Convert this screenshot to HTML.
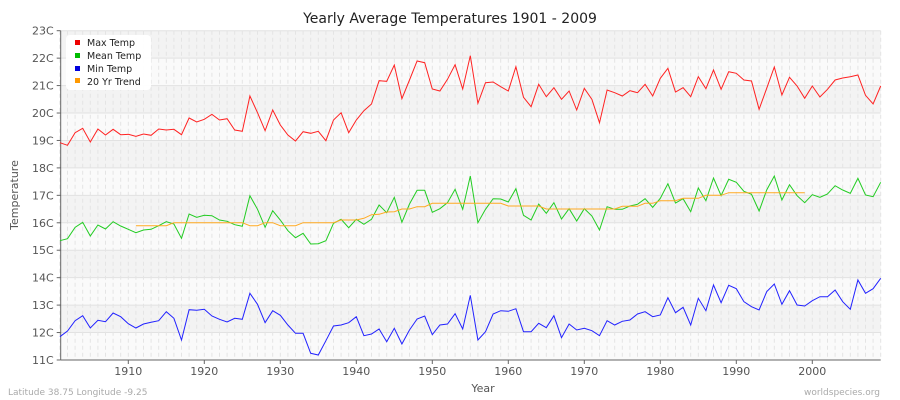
<!DOCTYPE html>
<html><head><meta charset="utf-8"><style>
html,body{margin:0;padding:0;background:#fff;}
svg{display:block;font-family:"DejaVu Sans","Liberation Sans",sans-serif;}
</style></head><body>
<svg id="c" width="900" height="400" xmlns="http://www.w3.org/2000/svg">
<rect x="0" y="0" width="900" height="400" fill="#fff"/>
<g id="bands"></g>
<g id="grid"></g>
<text x="450" y="23" text-anchor="middle" font-size="14" fill="#222">Yearly Average Temperatures 1901 - 2009</text>
<g id="axes"></g>
<g id="series"></g>
<rect x="66" y="35" width="85" height="55" rx="4" fill="#fff" opacity="0.95"/>
<rect x="75" y="40" width="5" height="5" fill="#e00"/>
<text x="87" y="46" font-size="9.5" fill="#222">Max Temp</text>
<rect x="75" y="53" width="5" height="5" fill="#0b0"/>
<text x="87" y="59" font-size="9.5" fill="#222">Mean Temp</text>
<rect x="75" y="66" width="5" height="5" fill="#00d"/>
<text x="87" y="72" font-size="9.5" fill="#222">Min Temp</text>
<rect x="75" y="78" width="5" height="5" fill="#f90"/>
<text x="87" y="85" font-size="9.5" fill="#222">20 Yr Trend</text>
<text x="483" y="392" text-anchor="middle" font-size="11" fill="#555">Year</text>
<text transform="translate(18,195) rotate(-90)" text-anchor="middle" font-size="11" fill="#555">Temperature</text>
<text x="8" y="395" font-size="9" fill="#aaa">Latitude 38.75 Longitude -9.25</text>
<text x="880" y="395" text-anchor="end" font-size="9" fill="#aaa">worldspecies.org</text>
</svg>
<script>
var NS="http://www.w3.org/2000/svg";
function el(p,t,a){var e=document.createElementNS(NS,t);for(var k in a)e.setAttribute(k,a[k]);document.getElementById(p).appendChild(e);return e;}
var L=60.7,R=880.7,T=30.7,B=360;
function X(y){return 128.3+(y-1910)*7.6;}
function Yt(t){return T+(23-t)*27.44;}
for(var t=11;t<23;t++){
 el("bands","rect",{x:L,y:Yt(t+1),width:R-L,height:27.44,fill:(t%2==0)?"#f3f3f3":"#fafafa"});
}
for(var t=11;t<=23;t++){el("grid","line",{x1:L,x2:R,y1:Yt(t),y2:Yt(t),stroke:"#e2e2e2","stroke-width":1});}
for(var y=1901;y<=2009;y++){el("grid","line",{x1:X(y),x2:X(y),y1:T,y2:B,stroke:"#e4e4e4","stroke-width":1,"stroke-dasharray":"4,3"});}
el("axes","line",{x1:L,x2:L,y1:T,y2:B,stroke:"#666"});
el("axes","line",{x1:L,x2:R,y1:B,y2:B,stroke:"#666"});
for(var t=11;t<=23;t++){el("axes","line",{x1:L-4,x2:L,y1:Yt(t),y2:Yt(t),stroke:"#666"});
 var tx=el("axes","text",{x:L-7,y:Yt(t)+4,"text-anchor":"end","font-size":"11",fill:"#555"});tx.textContent=t+"C";}
for(var y=1910;y<=2000;y+=10){el("axes","line",{x1:X(y),x2:X(y),y1:B,y2:B+4,stroke:"#666"});
 var tx=el("axes","text",{x:X(y),y:B+15,"text-anchor":"middle","font-size":"11",fill:"#555"});tx.textContent=y;}
var mx1=[368,376,338,325,366,327,345,328,344,343,349,342,346,327,330,328,344,294,306,298,283,300,296,330,334,228,278,332,270,315,345,363,335,340,334,362,300,278,338,300,272,252,182,184,135,236,180,123,128,207,213,178,134,207];
var mx2=[107,250,188,186,200,213,140,232,260,193,230,203,238,213,270,205,238,308,210,218,228,212,218,193,228,175,145,216,203,230,170,206,150,208,155,160,180,183,268,205,141,225,172,198,235,198,231,208,180,174,170,165,226,252,198];
var mn1=[662,656,622,607,648,615,627,605,618,628,638,630,628,617,605,612,655,582,592,586,587,600,604,614,619,527,568,622,572,600,632,653,640,672,671,662,610,598,623,598,613,598,555,578,532,607,552,511,511,577,566,548,508,568];
var mn2=[468,608,568,536,537,546,506,586,600,552,580,548,597,566,603,566,588,630,560,568,568,558,553,536,562,535,491,549,536,575,504,542,474,527,478,487,514,523,573,510,468,540,494,527,548,524,532,522,497,510,520,475,525,530,487];
var mi1=[950,933,902,887,924,901,905,879,890,911,924,912,907,902,875,895,960,869,871,868,888,898,906,895,898,820,853,908,872,886,915,940,940,1000,1005,962,918,915,908,890,947,942,927,965,925,972,930,897,888,944,915,912,881,927];
var mi2=[826,960,935,882,872,874,866,935,935,910,923,887,953,912,930,925,932,947,902,915,904,900,882,875,890,885,833,878,862,915,835,872,795,848,796,806,845,860,870,815,792,853,812,855,858,842,830,830,810,845,868,780,820,806,775];
var tr=[617,617,617,617,617,608,608,608,608,608,608,608,608,608,608,617,617,608,608,617,617,617,608,608,608,608,608,600,600,600,595,584,583,576,575,567,567,560,560,550,550,550,550,550,550,550,550,550,550,558,558,558,558,558,567,567,567,567,567,567,567,567,567,567,559,559,559,550,550,542,542,542,535,535,535,526,526,526,518,518,518,518,518,518,518,518,518,518,518];
function line(a,b,col,start){var d=a.concat(b),p=[];for(var i=0;i<d.length;i++){p.push(X(start+i).toFixed(1)+","+(20+d[i]/3).toFixed(1));}
 el("series","polyline",{points:p.join(" "),fill:"none",stroke:col,"stroke-width":1});}
line(mx1,mx2,"#f22",1901);
line(mn1,mn2,"#2c2",1901);
line(mi1,mi2,"#22f",1901);
line(tr,[],"#fa2",1911);
</script>
</body></html>
